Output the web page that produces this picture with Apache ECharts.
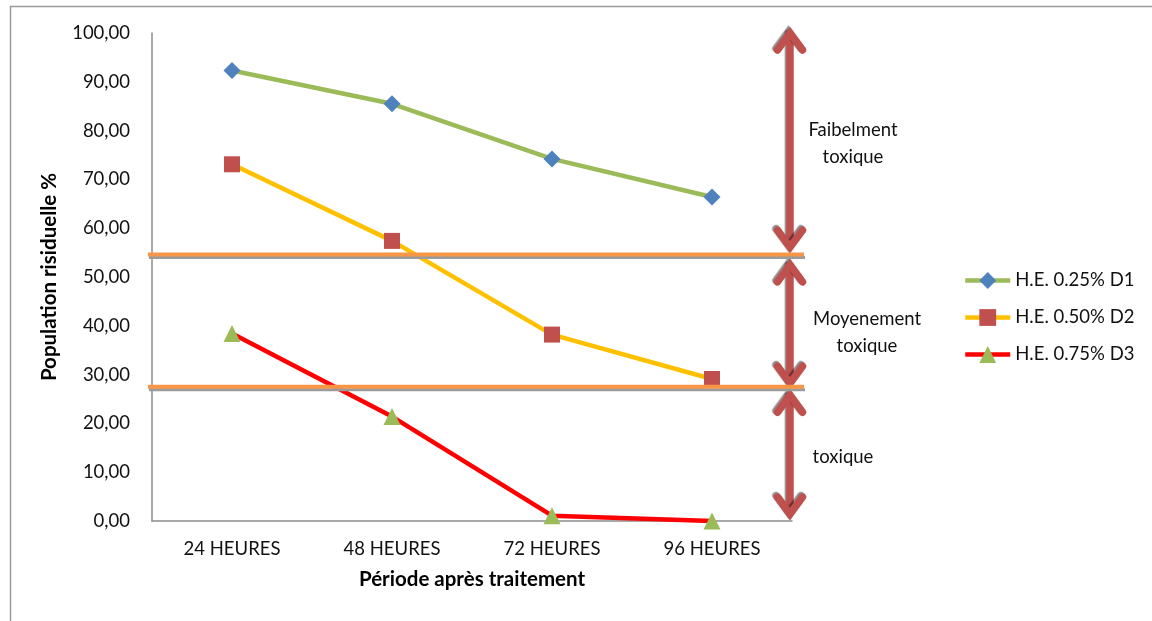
<!DOCTYPE html>
<html>
<head>
<meta charset="utf-8">
<script src="https://cdn.jsdelivr.net/npm/echarts@6/dist/echarts.min.js"></script>
<style>
  html, body { margin: 0; padding: 0; background: #fff; }
  #chart { width: 1152px; height: 621px; }
</style>
</head>
<body>
<div id="chart"></div>
<script>
// Periods after treatment
const categories = ['24 HEURES', '48 HEURES', '72 HEURES', '96 HEURES'];
// Residual population (%) per dose
const seriesNames = ['H.E. 0.25% D1', 'H.E. 0.50% D2', 'H.E. 0.75% D3'];
const doseD1 = [92.3, 85.5, 74.2, 66.4];
const doseD2 = [73.1, 57.4, 38.2, 29.1];
const doseD3 = [38.4, 21.4, 1.1, 0.0];
// Y axis range and step
const yMin = 0, yMax = 100, yStep = 10;
// Toxicity class boundaries (%)
const thresholds = [54.6, 27.5];
// Double arrows spanning each toxicity class (from, to in %)
const zoneArrows = [[100.6, 55.5], [53.1, 27.6], [26.4, 0.8]];
// Class names and the value at which each one is centred
const zoneLabels = ['Faibelment\ntoxique', 'Moyenement\ntoxique', 'toxique'];
const zoneLabelValues = [77.3, 38.6, 13.2];

const FONT = 'Lato, "Open Sans", sans-serif';
const chart = echarts.init(document.getElementById('chart'));

const lineSeries = (name, data, lineColor, symbol, symbolColor, size) => ({
  name, type: 'line', data,
  symbol, symbolSize: size,
  lineStyle: { color: lineColor, width: 4.5 },
  itemStyle: { color: symbolColor, borderWidth: 0 },
  emphasis: { disabled: true },
  z: 5
});

chart.setOption({
  animation: false,
  grid: { left: 152, right: 360, top: 33, bottom: 100 },
  legend: {
    orient: 'vertical', left: 958, top: 266,
    itemWidth: 45, itemHeight: 21, itemGap: 18,
    lineStyle: { width: 4.5 },
    textStyle: { fontFamily: FONT, fontSize: 18.5, color: '#111' },
    data: seriesNames
  },
  xAxis: {
    type: 'category', data: categories, boundaryGap: true,
    axisLine: { lineStyle: { color: '#8c8c8c', width: 1.5 } },
    axisTick: { show: false },
    axisLabel: { fontFamily: FONT, fontSize: 18.5, color: '#111', margin: 19 },
    name: 'Période après traitement', nameLocation: 'middle', nameGap: 48,
    nameTextStyle: { fontFamily: FONT, fontSize: 20.5, fontWeight: 'bold', color: '#000' }
  },
  yAxis: {
    type: 'value', min: yMin, max: yMax, interval: yStep,
    axisLine: { show: true, lineStyle: { color: '#8c8c8c', width: 1.5 } },
    axisTick: { show: false },
    splitLine: { show: false },
    axisLabel: {
      fontFamily: FONT, fontSize: 18.5, color: '#111', margin: 22,
      formatter: v => v.toFixed(2).replace('.', ',')
    },
    name: 'Population risiduelle %', nameLocation: 'middle', nameGap: 92, nameRotate: 90,
    nameTextStyle: { fontFamily: FONT, fontSize: 20.5, fontWeight: 'bold', color: '#000' }
  },
  series: [
    lineSeries(seriesNames[0], doseD1, '#9BBB59', 'diamond', '#4F81BD', 17),
    lineSeries(seriesNames[1], doseD2, '#FFC000', 'rect', '#C0504D', 16),
    lineSeries(seriesNames[2], doseD3, '#FF0000', 'triangle', '#9BBB59', 17)
  ]
});

// Overlay: class boundaries, double arrows and class names, placed via the axes
const yPx = v => chart.convertToPixel({ yAxisIndex: 0 }, v);
const xPx = i => chart.convertToPixel({ xAxisIndex: 0 }, i);
const band = xPx(1) - xPx(0);
const plotLeft = xPx(0) - band / 2;
const plotRight = xPx(categories.length - 1) + band / 2;
const arrowX = plotRight - 2;

const graphics = [];

// Frame around the chart
graphics.push({
  type: 'rect', shape: { x: 10.5, y: 6.5, width: 1300, height: 700 },
  style: { fill: null, stroke: '#9a9a9a', lineWidth: 1.5 }, silent: true, z: 1
});

thresholds.forEach(t => {
  const y = yPx(t);
  graphics.push({
    type: 'line', shape: { x1: plotLeft - 3, y1: y + 3, x2: plotRight + 13, y2: y + 3 },
    style: { stroke: '#9b9b9b', lineWidth: 3 }, silent: true, z: 8
  });
  graphics.push({
    type: 'line', shape: { x1: plotLeft - 4, y1: y, x2: plotRight + 12, y2: y },
    style: { stroke: '#F79646', lineWidth: 4 }, silent: true, z: 9
  });
});

const arrowStyle = {
  stroke: '#C0504D', lineWidth: 7.5, lineCap: 'round', lineJoin: 'miter', fill: null,
  shadowColor: 'rgba(0,0,0,0.45)', shadowOffsetX: -1.5, shadowOffsetY: -1.5, shadowBlur: 1
};
zoneArrows.forEach(([from, to]) => {
  const yTop = yPx(from), yBot = yPx(to);
  const head = 20, half = 12.5;
  graphics.push({
    type: 'group', silent: true, z: 10,
    children: [
      { type: 'line', shape: { x1: arrowX, y1: yTop + 5, x2: arrowX, y2: yBot - 5 }, style: arrowStyle },
      { type: 'polyline', shape: { points: [[arrowX - half, yTop + head], [arrowX, yTop + 3], [arrowX + half, yTop + head]] }, style: arrowStyle },
      { type: 'polyline', shape: { points: [[arrowX - half, yBot - head], [arrowX, yBot - 3], [arrowX + half, yBot - head]] }, style: arrowStyle }
    ]
  });
});

const labelOffsets = [63, 77, 53];
zoneLabels.forEach((txt, i) => {
  graphics.push({
    type: 'text', silent: true, z: 10,
    x: arrowX + labelOffsets[i], y: yPx(zoneLabelValues[i]),
    style: {
      text: txt, fontFamily: FONT, fontSize: 18.5, fill: '#111',
      align: 'center', verticalAlign: 'middle', lineHeight: 27
    }
  });
});

chart.setOption({ graphic: graphics });
</script>
</body>
</html>
